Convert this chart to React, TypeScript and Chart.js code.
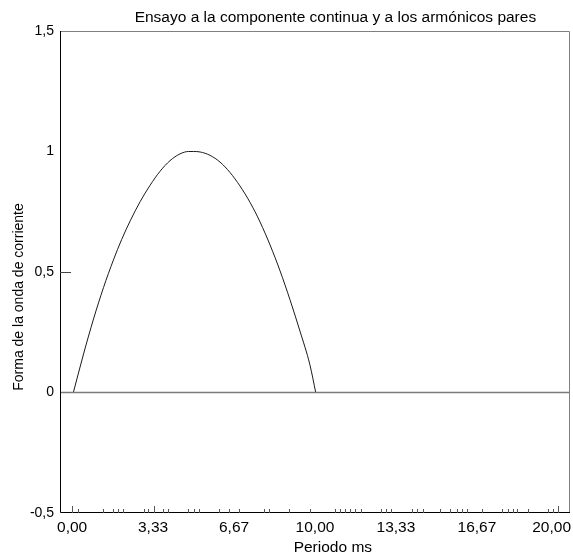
import { useEffect, useRef } from "react";
import { Chart, registerables } from "chart.js";

Chart.register(...registerables);

const titleText = "Ensayo a la componente continua y a los armónicos pares";
const xTitle = "Periodo ms";
const yTitle = "Forma de la onda de corriente";

// Current waveform
const timeMs = [0.05, 0.47, 0.88, 1.29, 1.7, 2.04, 2.39, 2.8, 3.21, 3.62, 4.03, 4.44, 4.79, 5.0, 5.27, 5.68, 6.09, 6.5, 6.91, 7.33, 7.74, 8.15, 8.56, 8.97, 9.38, 9.79, 10.03];
const current = [0, 0.16, 0.305, 0.435, 0.55, 0.635, 0.712, 0.792, 0.86, 0.918, 0.962, 0.99, 1.0, 1.0, 0.998, 0.984, 0.956, 0.913, 0.857, 0.788, 0.707, 0.612, 0.505, 0.385, 0.255, 0.115, 0];

// Zero baseline
const baselineX = [-0.5, 20.5];
const baselineY = [0, 0];

// Axis ticks
const xMin = -0.5;
const xMax = 20.5;
const yMin = -0.5;
const yMax = 1.5;
const xTickValues = [0, 3.333, 6.667, 10, 13.333, 16.667, 20];
const xTickLabels = ["0,00", "3,33", "6,67", "10,00", "13,33", "16,67", "20,00"];
const yTickValues = [-0.5, 0, 0.5, 1, 1.5];
const yTickLabels = ["-0,5", "0", "0,5", "1", "1,5"];

// Inner tick marks along the time axis
const xRugMajor = [0, 3.37, 20];
const xRugMinor = [0.24, 1.29, 1.67, 1.88, 2.11, 2.95, 3.13, 3.76, 3.95, 4.78, 5.01, 5.21, 6.03, 6.47, 6.89, 7.9, 8.12, 8.92, 9.79, 10.84, 11.02, 11.23, 11.44, 11.66, 11.91, 12.72, 12.93, 13.13, 14.0, 14.21, 14.44, 15.13, 15.57, 15.84, 16.06, 16.26, 16.86, 17.72, 17.94, 18.14, 18.33, 18.76, 19.6, 19.78];
const yInnerTicks = [0.5];

const FONT = "'Liberation Sans', Arial, Helvetica, sans-serif";

const decor = {
  id: "decor",
  afterDatasetsDraw(chart: any) {
    const { ctx, chartArea: a, scales } = chart;
    const x = scales.x;
    const y = scales.y;
    ctx.save();
    ctx.lineWidth = 1;
    // frame
    ctx.strokeStyle = "#808080";
    ctx.beginPath();
    ctx.moveTo(a.left, a.top + 0.5);
    ctx.lineTo(a.right - 0.5, a.top + 0.5);
    ctx.lineTo(a.right - 0.5, a.bottom);
    ctx.stroke();
    ctx.strokeStyle = "#000";
    ctx.beginPath();
    ctx.moveTo(a.left + 0.5, a.top);
    ctx.lineTo(a.left + 0.5, a.bottom - 0.5);
    ctx.lineTo(a.right, a.bottom - 0.5);
    ctx.stroke();
    // rug ticks
    ctx.strokeStyle = "#555";
    ctx.beginPath();
    xRugMajor.forEach((v) => {
      const px = Math.round(x.getPixelForValue(v)) + 0.5;
      ctx.moveTo(px, a.bottom);
      ctx.lineTo(px, a.bottom - 7);
    });
    xRugMinor.forEach((v) => {
      const px = Math.round(x.getPixelForValue(v)) + 0.5;
      ctx.moveTo(px, a.bottom);
      ctx.lineTo(px, a.bottom - 4);
    });
    ctx.stroke();
    // inner y ticks
    ctx.strokeStyle = "#444";
    ctx.beginPath();
    yInnerTicks.forEach((v) => {
      const py = Math.round(y.getPixelForValue(v)) + 0.5;
      ctx.moveTo(a.left, py);
      ctx.lineTo(a.left + 11, py);
    });
    ctx.stroke();
    // x tick labels
    ctx.fillStyle = "#000";
    ctx.font = `15.5px ${FONT}`;
    ctx.textAlign = "center";
    ctx.textBaseline = "middle";
    const cw = chart.width;
    xTickValues.forEach((v, i) => {
      const w = ctx.measureText(xTickLabels[i]).width;
      const px = Math.min(x.getPixelForValue(v), cw - 2 - w / 2);
      ctx.fillText(xTickLabels[i], px, a.bottom + 15);
    });
    // titles
    ctx.font = `15.5px ${FONT}`;
    ctx.fillText(titleText, a.left + (a.right - a.left) * 0.54, 18);
    ctx.fillText(xTitle, a.left + (a.right - a.left) * 0.535, 548);
    ctx.save();
    ctx.translate(19, 297);
    ctx.rotate(-Math.PI / 2);
    ctx.font = `14px ${FONT}`;
    ctx.fillText(yTitle, 0, 0);
    ctx.restore();
    ctx.restore();
  },
};

export default function App() {
  const ref = useRef<HTMLCanvasElement | null>(null);
  useEffect(() => {
    if (!ref.current) return;
    const chart = new Chart(ref.current, {
      type: "line",
      data: {
        datasets: [
          {
            data: baselineX.map((v, i) => ({ x: v, y: baselineY[i] })),
            borderColor: "#7a7a7a",
            borderWidth: 1.5,
            pointRadius: 0,
          },
          {
            data: timeMs.map((v, i) => ({ x: v, y: current[i] })),
            borderColor: "#1a1a1a",
            borderWidth: 1,
            pointRadius: 0,
            cubicInterpolationMode: "monotone",
          },
        ],
      },
      options: {
        responsive: false,
        animation: false,
        devicePixelRatio: 1,
        layout: { padding: { top: 31, right: 3, left: 0, bottom: 0 } },
        plugins: { legend: { display: false }, tooltip: { enabled: false }, title: { display: false } },
        scales: {
          x: {
            type: "linear",
            min: xMin,
            max: xMax,
            grid: { display: false, drawTicks: false },
            border: { display: false },
            ticks: { display: false },
            afterFit: (s: any) => {
              s.height = 43;
            },
          },
          y: {
            type: "linear",
            min: yMin,
            max: yMax,
            grid: { display: false, drawTicks: false },
            border: { display: false },
            afterBuildTicks: (s: any) => {
              s.ticks = yTickValues.map((v) => ({ value: v }));
            },
            ticks: {
              color: "#000",
              padding: 6,
              font: { family: FONT, size: 14 },
              callback: (v: any) => {
                const i = yTickValues.findIndex((t) => Math.abs(t - Number(v)) < 1e-6);
                return i >= 0 ? yTickLabels[i] : "";
              },
            },
            afterFit: (s: any) => {
              s.width = 60;
            },
          },
        },
      },
      plugins: [decor],
    });
    return () => chart.destroy();
  }, []);
  return (
    <div style={{ position: "absolute", left: 0, top: 0, width: 573, height: 556, background: "#fff" }}>
      <canvas ref={ref} width={573} height={556} style={{ display: "block" }} />
    </div>
  );
}
